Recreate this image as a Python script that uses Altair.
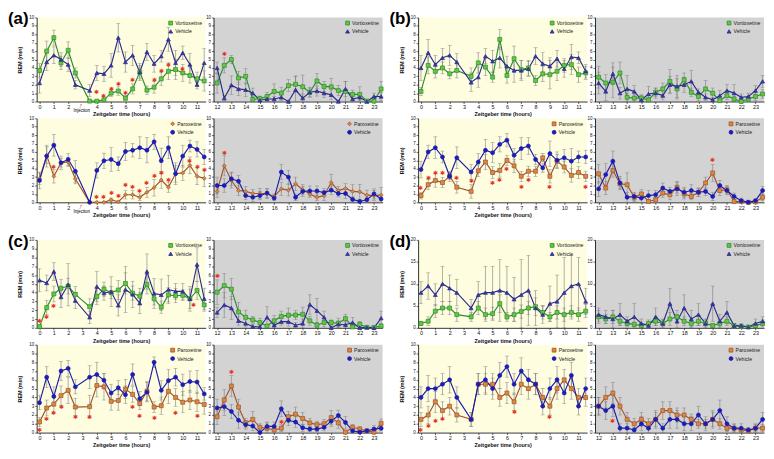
import pandas as pd
import altair as alt

FONT = "Liberation Sans"

# ---------------- x positions / ticks ----------------
LIGHT_X = [0, 0.5, 1, 1.5, 2, 2.5, 3.5, 4, 4.5, 5, 5.5, 6, 6.5, 7, 7.5, 8, 8.5, 9, 9.5, 10, 10.5, 11, 11.5]
DARK_X = [12, 12.5, 13, 13.5, 14, 14.5, 15, 15.5, 16, 16.5, 17, 17.5, 18, 18.5, 19, 19.5,
          20, 20.5, 21, 21.5, 22, 22.5, 23, 23.5]
LIGHT_TICKS = [0, 1, 2, 3, 4, 5, 6, 7, 8, 9, 10, 11]
LIGHT_TICKS_A = [0, 1, 2, 4, 5, 6, 7, 8, 9, 10, 11]
DARK_TICKS = [12, 13, 14, 15, 16, 17, 18, 19, 20, 21, 22, 23]
Y_TICKS_10 = [0, 1, 2, 3, 4, 5, 6, 7, 8, 9, 10]
Y_TICKS_20 = [0, 5, 10, 15, 20]

# ---------------- (a) ----------------
A1L_drug = [3.7, 6.0, 7.6, 4.6, 6.1, 3.4, 0.05, 0.05, 0.2, 1.0, 1.25, 0.4, 1.5, 3.5, 1.35, 1.7, 2.7, 3.6, 3.8, 3.4, 3.1, 2.7, 2.45]
A1L_drug_e = [0.8, 1.2, 0.9, 0.8, 1.0, 0.6, 0.1, 0.1, 0.2, 0.4, 0.5, 0.3, 0.6, 0.8, 0.5, 0.7, 0.8, 1.0, 1.2, 1.0, 0.9, 0.8, 1.2]
A1L_veh = [2.2, 4.7, 5.5, 5.0, 4.4, 2.0, 1.3, 3.4, 3.3, 4.3, 7.6, 4.7, 5.5, 3.5, 5.9, 4.5, 5.4, 7.4, 4.6, 5.8, 4.4, 2.0, 4.6]
A1L_veh_e = [1.2, 1.0, 1.0, 0.8, 0.8, 0.5, 0.7, 0.9, 0.9, 1.4, 1.7, 1.2, 1.2, 1.0, 1.0, 1.0, 0.7, 1.4, 1.5, 0.8, 1.3, 0.5, 1.7]
A1L_star_x = [4, 4.5, 5, 5.5, 6, 6.5, 8, 8.5, 9, 10]
A1L_star_y = [1.1, 0.7, 1.45, 2.1, 1.05, 2.55, 2.55, 3.6, 4.4, 3.9]

A1D_drug = [2.2, 4.3, 5.0, 2.8, 3.0, 0.25, 0.35, 0.6, 1.2, 1.0, 1.9, 2.05, 1.75, 1.1, 2.45, 1.8, 1.75, 1.3, 1.2, 0.85, 0.85, 0.05, 0.05, 1.5]
A1D_drug_e = [1.2, 0.9, 0.5, 0.8, 0.9, 0.3, 0.3, 0.5, 0.9, 0.7, 0.7, 1.0, 1.4, 0.6, 0.9, 0.6, 1.0, 0.6, 1.2, 0.5, 0.9, 0.1, 0.5, 0.9]
A1D_veh = [4.0, 0.4, 1.95, 1.5, 1.4, 1.0, 0.15, 0.3, 0.3, 0.5, 0.0, 1.4, 0.4, 1.1, 1.25, 1.0, 0.8, 0.0, 1.5, 0.3, 0.5, 0.0, 0.6, 0.6]
A1D_veh_e = [0.7, 0.3, 1.1, 0.8, 0.8, 0.6, 0.2, 0.3, 0.3, 0.4, 0.1, 1.6, 0.5, 0.5, 0.6, 0.5, 0.6, 0.1, 0.9, 0.3, 0.4, 0.1, 0.4, 0.5]
A1D_star_x = [12.5]
A1D_star_y = [5.7]

A2L_drug = [2.8, 5.6, 3.1, 4.7, 4.8, 2.8, 0.0, 0.0, 0.0, 0.3, 0.05, 0.9, 0.9, 0.6, 1.2, 1.75, 2.65, 1.8, 3.4, 3.5, 4.4, 3.1, 2.85]
A2L_drug_e = [0.7, 1.0, 0.8, 0.5, 0.5, 0.6, 0.0, 0.0, 0.05, 0.2, 0.1, 0.5, 0.5, 0.4, 0.6, 1.0, 1.0, 0.6, 1.0, 0.9, 1.0, 1.0, 1.0]
A2L_veh = [2.6, 5.5, 6.8, 4.7, 5.1, 3.7, 0.0, 3.8, 4.95, 5.1, 4.6, 6.05, 6.2, 6.5, 6.2, 7.2, 4.95, 6.5, 3.4, 5.5, 6.7, 6.3, 5.4]
A2L_veh_e = [1.0, 1.3, 1.3, 0.8, 0.7, 1.3, 0.0, 0.9, 0.9, 1.4, 0.8, 1.1, 0.8, 1.3, 1.5, 0.9, 1.5, 1.3, 1.3, 1.3, 0.7, 0.9, 0.9]
A2L_star_x = [1, 4, 4.5, 5, 5.5, 6, 6.5, 7, 7.5, 8, 8.5, 9, 10.5, 11, 11.5]
A2L_star_y = [4.2, 0.6, 0.6, 1.1, 0.8, 2.0, 1.8, 1.3, 2.3, 3.1, 3.45, 2.6, 4.9, 4.2, 3.9]

A2D_drug = [1.3, 4.35, 2.6, 1.4, 1.3, 1.05, 1.05, 1.05, 0.7, 1.6, 1.45, 2.2, 1.5, 1.0, 0.6, 0.8, 2.35, 1.4, 1.65, 1.3, 1.25, 0.85, 0.8, 0.85]
A2D_drug_e = [0.7, 1.2, 0.9, 0.6, 0.6, 0.5, 0.6, 0.6, 0.3, 0.8, 0.7, 0.8, 0.6, 0.4, 0.4, 0.6, 1.0, 0.5, 0.6, 0.8, 0.9, 0.6, 0.6, 0.9]
A2D_veh = [2.0, 2.0, 2.8, 2.5, 0.8, 0.6, 0.8, 1.1, 0.5, 3.6, 3.0, 0.6, 1.3, 1.35, 1.35, 1.15, 1.45, 1.05, 1.05, 0.35, 0.1, 0.3, 1.0, 0.4]
A2D_veh_e = [1.0, 0.8, 0.8, 0.7, 0.5, 0.5, 0.5, 0.5, 0.3, 0.9, 0.8, 0.4, 0.6, 0.6, 0.6, 0.5, 0.5, 0.4, 0.6, 0.3, 0.2, 0.3, 0.6, 0.5]
A2D_star_x = [12.5]
A2D_star_y = [5.9]

# ---------------- (b) ----------------
B1L_drug = [1.2, 4.3, 3.6, 4.0, 3.3, 3.7, 3.0, 4.6, 4.1, 2.9, 7.4, 3.1, 5.1, 3.8, 4.0, 2.5, 3.3, 3.2, 3.6, 4.3, 4.4, 3.2, 3.4]
B1L_drug_e = [0.5, 1.0, 0.8, 0.7, 0.6, 0.9, 1.0, 1.2, 1.0, 0.6, 1.2, 0.9, 1.5, 1.1, 0.9, 0.6, 0.9, 1.7, 1.1, 0.8, 1.2, 0.9, 0.8]
B1L_veh = [4.0, 5.8, 4.4, 5.2, 5.5, 4.7, 2.3, 2.9, 5.4, 4.8, 5.2, 4.2, 3.7, 3.7, 3.9, 5.4, 4.5, 4.2, 5.1, 3.9, 5.3, 5.2, 3.6]
B1L_veh_e = [1.5, 1.6, 1.1, 1.1, 1.2, 1.0, 1.1, 1.2, 0.9, 1.3, 1.2, 1.2, 1.4, 1.2, 0.9, 1.0, 1.3, 1.0, 1.0, 1.0, 1.5, 0.7, 0.8]

B1D_drug = [2.9, 2.2, 2.3, 3.4, 0.5, 0.4, 0.4, 0.2, 1.1, 1.5, 2.4, 1.5, 2.6, 1.1, 0.6, 1.5, 1.0, 0.1, 0.7, 0.3, 0.0, 0.3, 0.6, 0.9]
B1D_drug_e = [1.3, 1.0, 1.8, 1.3, 0.5, 0.4, 0.4, 0.3, 0.5, 0.7, 1.4, 1.2, 0.8, 0.5, 0.5, 1.0, 0.6, 0.2, 0.5, 0.3, 0.1, 0.3, 0.5, 0.5]
B1D_veh = [2.2, 1.2, 3.3, 1.0, 1.5, 1.2, 0.2, 0.9, 1.0, 0.7, 2.0, 1.8, 2.0, 2.4, 1.1, 0.5, 0.2, 0.7, 1.3, 1.0, 0.5, 0.6, 1.3, 2.4]
B1D_veh_e = [1.3, 1.1, 1.3, 0.7, 1.6, 0.7, 0.5, 0.9, 0.6, 0.5, 1.0, 1.3, 0.9, 1.3, 0.4, 0.4, 0.3, 0.6, 0.7, 1.0, 0.4, 0.4, 0.6, 0.7]

B2L_drug = [0.8, 2.1, 2.6, 2.35, 3.1, 1.8, 1.3, 3.75, 4.8, 3.55, 3.8, 5.0, 4.35, 3.1, 3.7, 3.7, 5.3, 3.1, 4.9, 4.2, 3.2, 3.55, 3.1]
B2L_drug_e = [0.4, 0.6, 0.8, 0.6, 0.4, 0.7, 0.8, 0.7, 0.9, 0.7, 0.8, 0.6, 0.8, 0.6, 0.6, 0.6, 0.5, 0.8, 0.8, 0.7, 0.8, 0.7, 0.6]
B2L_veh = [3.9, 6.0, 6.5, 5.4, 3.1, 5.3, 3.6, 4.8, 6.2, 5.9, 6.9, 7.4, 5.6, 6.4, 6.7, 5.1, 4.1, 5.8, 5.0, 5.3, 4.9, 5.4, 5.4]
B2L_veh_e = [1.0, 0.8, 1.3, 0.7, 0.6, 1.3, 0.9, 1.0, 1.3, 1.2, 0.9, 0.8, 0.8, 1.3, 1.0, 0.6, 0.5, 1.5, 1.0, 1.0, 1.5, 0.7, 0.8]
B2L_star_x = [0, 0.5, 1, 1.5, 2.5, 3.5, 5, 5.5, 6, 7, 7.5, 9, 11.5]
B2L_star_y = [1.7, 2.9, 3.5, 3.5, 2.9, 2.5, 2.3, 2.6, 4.0, 1.8, 2.6, 1.8, 1.8]

B2D_drug = [3.4, 1.7, 3.8, 2.2, 2.1, 0.6, 1.0, 0.1, 0.3, 1.1, 0.9, 1.8, 1.0, 0.7, 1.2, 2.3, 3.5, 1.4, 1.5, 0.1, 0.1, 0.0, 0.05, 0.6]
B2D_drug_e = [1.1, 0.8, 0.8, 0.6, 1.4, 0.5, 0.5, 0.2, 0.3, 0.5, 0.6, 0.7, 0.6, 0.4, 0.5, 0.7, 1.0, 0.6, 0.5, 0.2, 0.2, 0.1, 0.1, 0.4]
B2D_veh = [1.6, 3.3, 4.9, 2.3, 0.6, 0.7, 0.5, 0.8, 0.9, 1.7, 1.3, 1.6, 1.2, 1.4, 1.2, 1.3, 0.7, 2.0, 1.4, 0.7, 0.2, 0.0, 0.2, 1.4]
B2D_veh_e = [0.9, 1.3, 1.2, 0.8, 0.6, 0.5, 0.5, 0.6, 0.5, 0.6, 0.5, 0.8, 0.6, 0.7, 0.5, 0.5, 0.5, 0.6, 0.5, 0.4, 0.3, 0.1, 0.2, 0.5]
B2D_star_x = [20]
B2D_star_y = [5.0]

# ---------------- (c) ----------------
C1L_drug = [0.15, 2.3, 3.85, 4.5, 4.75, 3.8, 2.4, 3.55, 4.4, 4.0, 4.3, 5.05, 3.95, 3.6, 4.95, 3.3, 2.35, 3.75, 3.65, 3.7, 3.3, 4.25, 2.6]
C1L_drug_e = [0.1, 0.8, 0.9, 1.0, 0.9, 0.9, 0.9, 0.9, 0.8, 0.7, 1.1, 1.2, 0.8, 0.9, 1.1, 0.7, 0.7, 0.8, 0.8, 0.6, 1.1, 1.0, 0.7]
C1L_veh = [5.4, 5.1, 6.4, 3.5, 4.9, 3.1, 1.2, 4.7, 3.95, 4.1, 2.55, 4.35, 3.8, 2.8, 6.4, 3.9, 3.75, 4.35, 4.15, 4.15, 3.3, 7.2, 3.3]
C1L_veh_e = [1.3, 0.9, 1.0, 1.2, 2.4, 0.9, 0.7, 1.7, 0.8, 1.7, 1.2, 2.6, 1.5, 1.2, 2.0, 1.7, 1.8, 1.6, 0.9, 0.9, 1.4, 1.9, 1.2]
C1L_star_x = [0, 0.5, 1, 10.75]
C1L_star_y = [0.8, 1.2, 2.5, 2.55]

C1D_drug = [4.05, 4.8, 4.4, 1.8, 1.2, 0.9, 0.6, 0.2, 0.8, 1.3, 1.45, 1.45, 1.55, 0.8, 0.3, 0.6, 0.6, 0.5, 1.05, 0.1, 0.4, 0.05, 0.05, 0.2]
C1D_drug_e = [1.4, 1.4, 1.2, 1.1, 0.8, 0.4, 0.5, 0.1, 0.6, 0.6, 0.8, 0.5, 0.8, 0.5, 0.3, 0.5, 0.3, 0.6, 0.5, 0.2, 0.3, 0.1, 0.1, 0.3]
C1D_veh = [1.75, 2.6, 2.25, 0.8, 0.5, 0.15, 0.1, 1.2, 0.3, 0.7, 0.7, 0.3, 0.5, 2.65, 1.95, 1.2, 0.0, 0.4, 0.35, 0.6, 0.0, 0.05, 0.0, 1.1]
C1D_veh_e = [0.6, 1.4, 1.3, 0.5, 0.4, 0.2, 0.2, 1.2, 0.3, 0.4, 0.5, 0.3, 0.5, 1.1, 1.4, 0.7, 0.1, 0.4, 0.4, 0.6, 0.1, 0.1, 0.1, 0.8]
C1D_star_x = [12]
C1D_star_y = [5.9]

C2L_drug = [1.2, 2.8, 3.25, 4.2, 4.8, 2.9, 2.95, 5.35, 5.2, 3.55, 3.65, 4.95, 4.35, 3.3, 4.7, 2.9, 3.05, 4.7, 4.0, 3.45, 3.7, 3.5, 3.2]
C2L_drug_e = [0.5, 0.9, 1.0, 1.1, 1.5, 1.0, 1.3, 1.3, 1.5, 1.0, 1.1, 1.1, 0.9, 0.7, 1.1, 0.6, 1.0, 1.4, 1.0, 1.2, 1.1, 1.1, 1.1]
C2L_veh = [3.4, 6.3, 4.1, 7.0, 7.3, 5.2, 6.3, 6.6, 5.95, 4.5, 5.1, 4.3, 6.6, 3.85, 4.6, 8.0, 4.8, 5.9, 6.3, 5.45, 5.8, 5.75, 4.4]
C2L_veh_e = [0.8, 1.2, 1.1, 1.1, 0.9, 0.8, 1.3, 1.4, 0.8, 1.0, 0.8, 1.0, 1.2, 0.8, 1.1, 0.6, 1.1, 1.3, 1.0, 1.2, 1.2, 1.3, 0.7]
C2L_star_x = [0, 0.5, 1, 1.5, 2.5, 3.5, 6.5, 7, 8, 9.5, 11]
C2L_star_y = [0.3, 1.5, 2.2, 2.9, 1.8, 1.8, 2.9, 1.9, 1.6, 2.2, 1.9]

C2D_drug = [1.8, 3.7, 5.3, 2.9, 1.1, 1.5, 0.6, 0.5, 0.3, 0.5, 1.8, 2.1, 1.6, 1.1, 0.9, 1.0, 1.7, 1.1, 0.05, 0.6, 0.4, 0.2, 0.05, 1.05]
C2D_drug_e = [0.9, 1.2, 1.2, 0.9, 0.5, 0.9, 0.4, 0.6, 0.3, 0.4, 0.6, 0.8, 0.7, 0.5, 0.4, 0.5, 0.8, 0.6, 0.1, 0.3, 0.3, 0.2, 0.1, 0.5]
C2D_veh = [2.8, 2.95, 2.4, 1.4, 0.9, 0.75, 0.0, 0.7, 0.7, 2.7, 1.4, 1.2, 0.55, 0.4, 0.4, 0.6, 1.3, 1.95, 1.15, 0.2, 0.05, 0.2, 0.4, 0.5]
C2D_veh_e = [1.0, 1.0, 0.8, 0.9, 0.5, 0.5, 0.1, 0.5, 0.5, 0.9, 0.6, 0.6, 0.4, 0.3, 0.3, 0.4, 0.6, 0.6, 0.7, 0.2, 0.1, 0.2, 0.4, 0.3]
C2D_star_x = [13, 16.5]
C2D_star_y = [6.9, 1.2]

# ---------------- (d) ----------------
D1L_drug = [1.0, 1.5, 3.8, 4.5, 4.5, 3.0, 2.5, 4.5, 3.0, 3.2, 5.5, 2.5, 3.0, 3.7, 4.5, 4.8, 3.5, 2.5, 3.5, 3.0, 3.5, 3.0, 3.8]
D1L_drug_e = [0.5, 1.0, 1.5, 1.5, 1.5, 1.5, 1.0, 1.5, 1.5, 1.5, 2.0, 1.0, 1.5, 1.5, 1.5, 2.0, 1.5, 1.0, 1.5, 1.5, 1.5, 1.5, 1.5]
D1L_veh = [8.0, 9.5, 7.5, 10.0, 9.0, 8.0, 4.5, 7.5, 8.0, 8.0, 8.5, 8.0, 6.5, 7.5, 8.5, 4.5, 3.0, 5.5, 6.0, 8.0, 9.5, 10.0, 6.0]
D1L_veh_e = [2.5, 3.0, 2.5, 4.0, 3.0, 3.0, 2.0, 3.0, 6.0, 6.0, 7.0, 6.0, 5.0, 8.0, 8.0, 4.0, 2.0, 4.0, 6.0, 8.0, 7.0, 6.0, 3.0]

D1D_drug = [2.5, 2.0, 2.5, 1.5, 1.0, 0.8, 0.5, 1.0, 1.5, 1.0, 2.0, 2.5, 1.5, 1.0, 1.5, 1.0, 0.5, 1.0, 1.5, 0.5, 0.3, 0.2, 0.5, 1.0]
D1D_drug_e = [1.5, 1.0, 1.5, 1.0, 0.8, 0.5, 0.5, 0.8, 1.0, 0.8, 1.5, 1.5, 1.0, 0.8, 1.0, 0.8, 0.5, 0.8, 1.0, 0.5, 0.3, 0.2, 0.5, 0.8]
D1D_veh = [3.0, 2.5, 2.0, 3.0, 1.5, 2.5, 1.0, 0.5, 2.5, 1.0, 5.5, 1.5, 4.5, 2.0, 3.0, 1.0, 5.5, 1.5, 3.5, 0.5, 0.5, 0.2, 1.0, 1.5]
D1D_veh_e = [1.5, 1.5, 2.0, 2.5, 1.0, 3.0, 1.0, 0.5, 2.0, 1.0, 3.5, 1.5, 3.0, 2.0, 2.5, 1.0, 4.0, 1.5, 2.5, 0.5, 0.5, 0.3, 1.0, 1.0]

D2L_drug = [1.5, 2.0, 3.5, 2.5, 3.0, 2.0, 1.5, 5.5, 5.5, 5.5, 4.0, 4.5, 3.5, 5.5, 5.0, 5.5, 4.0, 3.0, 5.0, 6.0, 5.0, 4.0, 4.0]
D2L_drug_e = [0.8, 1.0, 1.2, 1.0, 1.0, 0.8, 0.8, 1.2, 1.2, 1.2, 1.0, 1.2, 1.0, 1.2, 1.2, 1.2, 1.0, 1.0, 1.2, 1.2, 1.2, 1.0, 1.0]
D2L_veh = [4.0, 5.0, 5.0, 5.5, 6.0, 4.0, 1.5, 5.5, 6.0, 5.0, 6.5, 7.5, 5.5, 7.0, 6.0, 5.5, 3.0, 5.0, 6.0, 4.5, 6.5, 3.0, 5.0]
D2L_veh_e = [1.2, 1.5, 1.2, 1.2, 1.5, 1.2, 0.8, 1.2, 1.5, 1.2, 1.5, 1.2, 1.2, 1.5, 1.2, 1.2, 1.0, 1.2, 1.5, 1.2, 1.5, 1.0, 1.2]
D2L_star_x = [0, 0.5, 1, 1.5, 6.5, 9]
D2L_star_y = [0.3, 0.7, 1.3, 1.5, 2.3, 1.8]

D2D_drug = [3.0, 4.0, 4.5, 3.0, 1.5, 1.0, 1.5, 1.0, 1.5, 2.5, 2.5, 2.0, 2.0, 1.5, 1.0, 1.0, 1.5, 1.0, 0.5, 0.5, 0.3, 0.2, 0.5, 0.5]
D2D_drug_e = [1.0, 1.2, 1.2, 1.0, 0.8, 0.6, 0.8, 0.6, 0.8, 1.0, 1.0, 0.8, 0.8, 0.6, 0.5, 0.5, 0.8, 0.6, 0.4, 0.4, 0.3, 0.2, 0.4, 0.4]
D2D_veh = [3.0, 2.5, 3.0, 0.5, 0.5, 0.3, 1.0, 0.5, 1.5, 0.5, 1.5, 1.5, 1.0, 1.0, 2.0, 1.0, 1.5, 2.5, 1.0, 0.5, 0.5, 0.3, 0.5, 1.5]
D2D_veh_e = [1.0, 1.0, 1.2, 0.5, 0.5, 0.3, 0.8, 0.5, 1.0, 0.5, 1.0, 1.0, 0.8, 0.8, 1.0, 0.8, 1.0, 1.2, 0.8, 0.5, 0.5, 0.3, 0.5, 0.8]
D2D_star_x = [13]
D2D_star_y = [1.3]

# ---------------- styling ----------------
W = 171
WS = 20
H_AB = 85
H_CD = 89
HS = 4
LIGHT_BG = "#FEFDE0"
DARK_BG = "#D3D3D3"

VORT = dict(name="Vortioxetine", line="#2E8B30", fill="#62C840", shape="square")
PARO = dict(name="Paroxetine", line="#A0522D", fill="#D98A40", shape="square")
PARO_D = dict(name="Paroxetine", line="#A0522D", fill="#D98A40", shape="diamond")
VEH_V = dict(name="Vehicle", line="#2A2A88", fill="#3A3AA8", shape="triangle-up")
VEH_P = dict(name="Vehicle", line="#1C1CA8", fill="#1C1CB8", shape="circle")


def make_panel(xs, drug_st, veh_st, drug, drug_e, veh, veh_e, light, height,
               star_x=(), star_y=(), ymax=10, yticks=Y_TICKS_10, xticks=None,
               injection=False, tag=None):
    rows = []
    for st, m, e in ((drug_st, drug, drug_e), (veh_st, veh, veh_e)):
        for x, v, s in zip(xs, m, e):
            rows.append({"x": x, "y": v, "lo": max(0.0, v - s), "hi": min(ymax, v + s),
                         "series": st["name"]})
    df = pd.DataFrame(rows)
    sdf = pd.DataFrame({"x": list(star_x), "y": list(star_y)})

    if xticks is None:
        xticks = LIGHT_TICKS if light else DARK_TICKS
    xdom = [-0.2, 11.6] if light else [11.75, 23.6]
    xscale = alt.Scale(domain=xdom, nice=False, zero=False)
    yscale = alt.Scale(domain=[0, ymax], nice=False)
    xaxis = alt.Axis(values=xticks, title="Zeitgeber time (hours)" if light else "",
                     labelFontSize=5.5, format="d")
    yaxis = alt.Axis(values=yticks, title="REM (min)" if light else "", format="d")

    def X(f="x"):
        return alt.X(f + ":Q", scale=xscale, axis=xaxis)

    def Y(f):
        return alt.Y(f + ":Q", scale=yscale, axis=yaxis)

    dom = [drug_st["name"], veh_st["name"]]
    leg = alt.Legend(title=None, orient="top-right", offset=3, padding=0,
                     labelFontSize=5.2, symbolSize=15, rowPadding=0.5, labelOffset=2,
                     symbolStrokeWidth=0.8, symbolOpacity=1)
    stroke_scale = alt.Scale(domain=dom, range=[drug_st["line"], veh_st["line"]])
    fill_scale = alt.Scale(domain=dom, range=[drug_st["fill"], veh_st["fill"]])
    shape_scale = alt.Scale(domain=dom, range=[drug_st["shape"], veh_st["shape"]])

    base = alt.Chart(df)
    rule = base.mark_rule(color="#7A7A7A", strokeWidth=0.6).encode(x=X(), y=Y("lo"), y2="hi:Q")
    tick_hi = base.mark_tick(orient="horizontal", size=4, thickness=0.6, color="#7A7A7A").encode(x=X(), y=Y("hi"))
    tick_lo = base.mark_tick(orient="horizontal", size=4, thickness=0.6, color="#7A7A7A").encode(x=X(), y=Y("lo"))
    line = base.mark_line(strokeWidth=1.15).encode(
        x=X(), y=Y("y"),
        stroke=alt.Stroke("series:N", scale=stroke_scale, legend=leg))
    pts = base.mark_point(filled=True, size=16, strokeWidth=0.7, opacity=1).encode(
        x=X(), y=Y("y"),
        fill=alt.Fill("series:N", scale=fill_scale, legend=leg),
        stroke=alt.Stroke("series:N", scale=stroke_scale, legend=leg),
        shape=alt.Shape("series:N", scale=shape_scale, legend=leg))
    layers = [rule, tick_hi, tick_lo, line, pts]
    if len(sdf):
        stars = alt.Chart(sdf).mark_text(text="\u2731", color="#E5332A", fontSize=6.5, baseline="middle").encode(
            x=X(), y=Y("y"))
        layers.append(stars)
    if injection:
        inj = pd.DataFrame({"x": [2.95], "t": ["Injection"]})
        layers.append(alt.Chart(inj).mark_text(text="\u2191", color="#E02020", fontSize=8, fontWeight="bold",
                                               angle=20, baseline="top").encode(x=X(), y=alt.value(height + 1)))
        layers.append(alt.Chart(inj).mark_text(fontSize=4.5, baseline="middle").encode(
            x=X(), y=alt.value(height + 10), text="t:N"))
    if tag:
        tdf = pd.DataFrame({"t": [tag]})
        layers.append(alt.Chart(tdf).mark_text(align="left", baseline="top", fontSize=17, fontWeight="bold").encode(
            x=alt.value(-29), y=alt.value(-6), text="t:N"))
    return alt.layer(*layers).properties(
        width=W, height=height,
        view=alt.ViewBackground(fill=LIGHT_BG if light else DARK_BG, strokeWidth=0))


def spacer(w, h):
    return alt.Chart(pd.DataFrame({"v": [0]})).mark_point(opacity=0).encode(
        x=alt.value(0), y=alt.value(0)).properties(width=w, height=h)


cells = [
    make_panel(LIGHT_X, VORT, VEH_V, A1L_drug, A1L_drug_e, A1L_veh, A1L_veh_e, True, H_AB,
               A1L_star_x, A1L_star_y, xticks=LIGHT_TICKS_A, injection=True, tag="(a)"),
    make_panel(DARK_X, VORT, VEH_V, A1D_drug, A1D_drug_e, A1D_veh, A1D_veh_e, False, H_AB, A1D_star_x, A1D_star_y),
    spacer(WS, H_AB),
    make_panel(LIGHT_X, VORT, VEH_V, B1L_drug, B1L_drug_e, B1L_veh, B1L_veh_e, True, H_AB, tag="(b)"),
    make_panel(DARK_X, VORT, VEH_V, B1D_drug, B1D_drug_e, B1D_veh, B1D_veh_e, False, H_AB),

    make_panel(LIGHT_X, PARO_D, VEH_P, A2L_drug, A2L_drug_e, A2L_veh, A2L_veh_e, True, H_AB,
               A2L_star_x, A2L_star_y, xticks=LIGHT_TICKS_A, injection=True),
    make_panel(DARK_X, PARO_D, VEH_P, A2D_drug, A2D_drug_e, A2D_veh, A2D_veh_e, False, H_AB, A2D_star_x, A2D_star_y),
    spacer(WS, H_AB),
    make_panel(LIGHT_X, PARO, VEH_P, B2L_drug, B2L_drug_e, B2L_veh, B2L_veh_e, True, H_AB, B2L_star_x, B2L_star_y),
    make_panel(DARK_X, PARO, VEH_P, B2D_drug, B2D_drug_e, B2D_veh, B2D_veh_e, False, H_AB, B2D_star_x, B2D_star_y),

    spacer(W, HS), spacer(W, HS), spacer(WS, HS), spacer(W, HS), spacer(W, HS),

    make_panel(LIGHT_X, VORT, VEH_V, C1L_drug, C1L_drug_e, C1L_veh, C1L_veh_e, True, H_CD,
               C1L_star_x, C1L_star_y, tag="(c)"),
    make_panel(DARK_X, VORT, VEH_V, C1D_drug, C1D_drug_e, C1D_veh, C1D_veh_e, False, H_CD, C1D_star_x, C1D_star_y),
    spacer(WS, H_CD),
    make_panel(LIGHT_X, VORT, VEH_V, D1L_drug, D1L_drug_e, D1L_veh, D1L_veh_e, True, H_CD,
               ymax=20, yticks=Y_TICKS_20, tag="(d)"),
    make_panel(DARK_X, VORT, VEH_V, D1D_drug, D1D_drug_e, D1D_veh, D1D_veh_e, False, H_CD,
               ymax=20, yticks=Y_TICKS_20),

    make_panel(LIGHT_X, PARO, VEH_P, C2L_drug, C2L_drug_e, C2L_veh, C2L_veh_e, True, H_CD, C2L_star_x, C2L_star_y),
    make_panel(DARK_X, PARO, VEH_P, C2D_drug, C2D_drug_e, C2D_veh, C2D_veh_e, False, H_CD, C2D_star_x, C2D_star_y),
    spacer(WS, H_CD),
    make_panel(LIGHT_X, PARO, VEH_P, D2L_drug, D2L_drug_e, D2L_veh, D2L_veh_e, True, H_CD, D2L_star_x, D2L_star_y),
    make_panel(DARK_X, PARO, VEH_P, D2D_drug, D2D_drug_e, D2D_veh, D2D_veh_e, False, H_CD, D2D_star_x, D2D_star_y),
]

chart = alt.concat(
    *cells, columns=5, spacing={"row": 17, "column": 8}, bounds="flush", align="each"
).resolve_scale(
    fill="independent", stroke="independent", shape="independent"
).properties(
    padding=0
).configure(
    font=FONT
).configure_view(
    strokeWidth=0
).configure_axis(
    grid=False, domainColor="#000000", domainWidth=0.8, tickColor="#000000", tickWidth=0.6,
    tickSize=2, labelFontSize=4.5, labelPadding=1, labelColor="#111111",
    titleFontSize=5.5, titleFontWeight="bold", titlePadding=2, titleColor="#111111"
).configure_axisY(
    titlePadding=6
).configure_legend(
    labelFont=FONT, labelColor="#222222"
)

chart.save("out.html", embed_options={"renderer": "svg", "actions": False})
